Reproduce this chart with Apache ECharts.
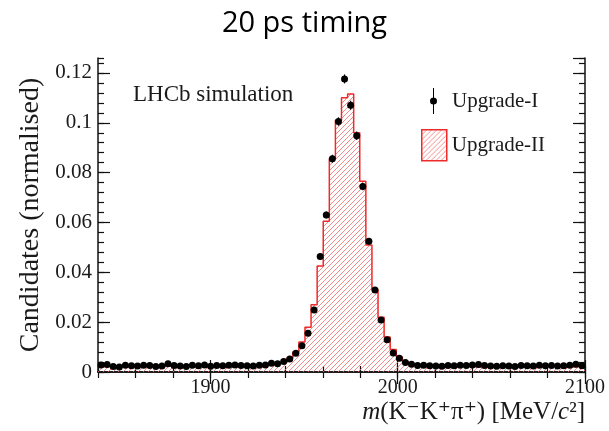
<!DOCTYPE html>
<html lang="en">
<head>
  <meta charset="UTF-8">
  <title>20 ps timing</title>
  <script src="https://cdn.jsdelivr.net/npm/echarts@6/dist/echarts.min.js"></script>
  <style>
    html, body { margin: 0; padding: 0; background: #fff; }
    #main { width: 609px; height: 431px; }
  </style>
</head>
<body>
  <div id="main"></div>
  <script>
    // binning of the mass histogram: 80 bins of 3.25 MeV from 1840 to 2100
    var binLo = 1840;
    var binWidth = 3.25;
    var nBins = 80;

    // Upgrade-I points (normalised candidates per bin)
    var upgradeI = [
      0.0028, 0.0030, 0.0022, 0.0020, 0.0027, 0.0025, 0.0024, 0.0027, 0.0026, 0.0022,
      0.0024, 0.0033, 0.0026, 0.0024, 0.0022, 0.0027, 0.0025, 0.0028, 0.0023, 0.0026,
      0.0025, 0.0027, 0.0028, 0.0026, 0.0025, 0.0024, 0.0027, 0.0028, 0.0035, 0.0033,
      0.0042, 0.0052, 0.0075, 0.0105, 0.0155, 0.0249, 0.0463, 0.0630, 0.0856, 0.1005,
      0.1176, 0.1070, 0.0948, 0.0744, 0.0525, 0.0329, 0.0209, 0.0129, 0.0076, 0.0055,
      0.0038, 0.0031, 0.0026, 0.0027, 0.0025, 0.0024, 0.0023, 0.0026, 0.0025, 0.0027,
      0.0026, 0.0028, 0.0030, 0.0026, 0.0024, 0.0023, 0.0025, 0.0024, 0.0022, 0.0026,
      0.0025, 0.0024, 0.0027, 0.0025, 0.0026, 0.0024, 0.0025, 0.0027, 0.0031, 0.0025
    ];
    // error bars of the Upgrade-I points
    var upgradeIErr = [
      0.0003, 0.0003, 0.0003, 0.0003, 0.0003, 0.0003, 0.0003, 0.0003, 0.0003, 0.0003,
      0.0003, 0.0003, 0.0003, 0.0003, 0.0003, 0.0003, 0.0003, 0.0003, 0.0003, 0.0003,
      0.0003, 0.0003, 0.0003, 0.0003, 0.0003, 0.0003, 0.0003, 0.0003, 0.0003, 0.0003,
      0.0004, 0.0004, 0.0005, 0.0006, 0.0007, 0.0009, 0.0012, 0.0014, 0.0016, 0.0017,
      0.0018, 0.0018, 0.0017, 0.0015, 0.0013, 0.0010, 0.0008, 0.0006, 0.0005, 0.0004,
      0.0004, 0.0003, 0.0003, 0.0003, 0.0003, 0.0003, 0.0003, 0.0003, 0.0003, 0.0003,
      0.0003, 0.0003, 0.0003, 0.0003, 0.0003, 0.0003, 0.0003, 0.0003, 0.0003, 0.0003,
      0.0003, 0.0003, 0.0003, 0.0003, 0.0003, 0.0003, 0.0003, 0.0003, 0.0003, 0.0003
    ];
    // Upgrade-II histogram
    var upgradeII = [
      0.0021, 0.0023, 0.0020, 0.0022, 0.0021, 0.0019, 0.0022, 0.0023, 0.0021, 0.0020,
      0.0022, 0.0024, 0.0021, 0.0020, 0.0022, 0.0023, 0.0021, 0.0022, 0.0020, 0.0021,
      0.0023, 0.0022, 0.0021, 0.0022, 0.0024, 0.0023, 0.0025, 0.0027, 0.0030, 0.0034,
      0.0040, 0.0055, 0.0080, 0.0120, 0.0180, 0.0270, 0.0425, 0.0605, 0.0856, 0.1010,
      0.1100, 0.1116, 0.0960, 0.0765, 0.0510, 0.0330, 0.0220, 0.0140, 0.0090, 0.0060,
      0.0040, 0.0030, 0.0025, 0.0023, 0.0022, 0.0021, 0.0022, 0.0020, 0.0021, 0.0023,
      0.0022, 0.0021, 0.0020, 0.0022, 0.0021, 0.0023, 0.0022, 0.0020, 0.0021, 0.0022,
      0.0021, 0.0020, 0.0022, 0.0021, 0.0023, 0.0022, 0.0021, 0.0020, 0.0022, 0.0021
    ];

    var xMajorTicks = [1900, 2000, 2100];

    // points with error bars
    var pointData = [];
    for (var i = 0; i < nBins; i++) {
      pointData.push([binLo + binWidth * (i + 0.5), upgradeI[i], upgradeIErr[i]]);
    }
    // step histogram, one point per left bin edge plus the last edge
    var histData = [];
    for (var j = 0; j < nBins; j++) {
      histData.push([binLo + binWidth * j, upgradeII[j]]);
    }
    histData.push([binLo + binWidth * nBins, upgradeII[nBins - 1]]);

    // red hatch pattern
    var hatch = document.createElement('canvas');
    hatch.width = 5;
    hatch.height = 5;
    var hc = hatch.getContext('2d');
    hc.strokeStyle = 'rgba(240,110,110,0.8)';
    hc.lineWidth = 1;
    hc.beginPath();
    hc.moveTo(0, 5); hc.lineTo(5, 0);
    hc.moveTo(-2.5, 2.5); hc.lineTo(2.5, -2.5);
    hc.moveTo(2.5, 7.5); hc.lineTo(7.5, 2.5);
    hc.stroke();
    var hatchFill = { image: hatch, repeat: 'repeat' };

    var serif = 'Liberation Serif, DejaVu Serif, serif';
    var ink = '#1a1a1a';
    var frame = { show: true, lineStyle: { color: '#111', width: 1.5 } };

    var myChart = echarts.init(document.getElementById('main'));

    var option = {
      backgroundColor: '#fff',
      animation: false,
      title: [{
        text: '20 ps timing',
        left: 'center',
        top: 4,
        textStyle: { fontFamily: 'Open Sans', fontSize: 29, fontWeight: 'normal', color: '#000' }
      }, {
        text: 'LHCb simulation',
        left: 133,
        top: 83,
        padding: 0,
        textStyle: { fontFamily: serif, fontSize: 23, fontWeight: 'normal', color: ink }
      }],
      legend: [{
        left: 430,
        top: 88,
        padding: 0,
        itemWidth: 7,
        itemHeight: 26,
        textStyle: { fontFamily: serif, fontSize: 21, color: ink, padding: [0, 0, 0, 10] },
        data: [{
          name: 'Upgrade-I',
          icon: 'path://M3,0h1v26h-1zM0,13a3.5,3.5 0 1,1 7,0a3.5,3.5 0 1,1 -7,0z',
          itemStyle: { color: '#000' }
        }]
      }, {
        left: 421,
        top: 129,
        padding: 0,
        itemWidth: 25,
        itemHeight: 31,
        textStyle: { fontFamily: serif, fontSize: 21, color: ink },
        data: [{
          name: 'Upgrade-II',
          icon: 'rect',
          itemStyle: { color: hatchFill, borderColor: '#ee2a2a', borderWidth: 1.5 }
        }]
      }],
      grid: { left: 98, right: 24, top: 58, bottom: 59 },
      xAxis: [{
        type: 'value',
        min: 1840,
        max: 2100,
        position: 'bottom',
        axisLine: frame,
        splitLine: { show: false },
        axisTick: { inside: true, length: 12, customValues: xMajorTicks, lineStyle: { color: '#111', width: 1.2 } },
        axisLabel: {
          customValues: xMajorTicks, margin: 6, fontFamily: serif, fontSize: 20, color: ink,
          formatter: function (v) { return String(v); }
        },
        name: '{it|m}(K\u207BK\u207A\u03C0\u207A) [MeV/{it|c}\u00B2]',
        nameLocation: 'end',
        nameGap: 0,
        nameTextStyle: {
          fontFamily: serif, fontSize: 25, color: ink,
          align: 'right', verticalAlign: 'top', padding: [28, 0, 0, 0],
          rich: { it: { fontFamily: serif, fontSize: 25, fontStyle: 'italic', color: ink } }
        }
      }, {
        type: 'value',
        min: 1840,
        max: 2100,
        interval: 20,
        position: 'bottom',
        axisLine: { show: false },
        splitLine: { show: false },
        axisTick: { inside: true, length: 6, lineStyle: { color: '#111', width: 1.2 } },
        axisLabel: { show: false }
      }, {
        type: 'value',
        min: 1840,
        max: 2100,
        position: 'top',
        axisLine: frame,
        splitLine: { show: false },
        axisTick: { inside: true, length: 12, customValues: xMajorTicks, lineStyle: { color: '#111', width: 1.2 } },
        axisLabel: { show: false }
      }, {
        type: 'value',
        min: 1840,
        max: 2100,
        interval: 20,
        position: 'top',
        axisLine: { show: false },
        splitLine: { show: false },
        axisTick: { inside: true, length: 6, lineStyle: { color: '#111', width: 1.2 } },
        axisLabel: { show: false }
      }],
      yAxis: [{
        type: 'value',
        min: 0,
        max: 0.126,
        interval: 0.02,
        position: 'left',
        axisLine: frame,
        splitLine: { show: false },
        axisTick: { inside: true, length: 12, lineStyle: { color: '#111', width: 1.2 } },
        axisLabel: { showMaxLabel: false, margin: 6, fontFamily: serif, fontSize: 21, color: ink },
        name: 'Candidates (normalised)',
        nameLocation: 'middle',
        nameGap: 52,
        nameTextStyle: { fontFamily: serif, fontSize: 28, color: ink }
      }, {
        type: 'value',
        min: 0,
        max: 0.126,
        interval: 0.004,
        position: 'left',
        axisLine: { show: false },
        splitLine: { show: false },
        axisTick: { inside: true, length: 6, lineStyle: { color: '#111', width: 1.2 } },
        axisLabel: { show: false }
      }, {
        type: 'value',
        min: 0,
        max: 0.126,
        interval: 0.02,
        position: 'right',
        axisLine: frame,
        splitLine: { show: false },
        axisTick: { inside: true, length: 12, lineStyle: { color: '#111', width: 1.2 } },
        axisLabel: { show: false }
      }, {
        type: 'value',
        min: 0,
        max: 0.126,
        interval: 0.004,
        position: 'right',
        axisLine: { show: false },
        splitLine: { show: false },
        axisTick: { inside: true, length: 6, lineStyle: { color: '#111', width: 1.2 } },
        axisLabel: { show: false }
      }],
      series: [{
        name: 'Upgrade-II',
        type: 'line',
        step: 'end',
        data: histData,
        showSymbol: false,
        symbol: 'none',
        lineStyle: { color: '#ee2a2a', width: 1.5 },
        itemStyle: { color: '#ee2a2a' },
        areaStyle: { color: hatchFill, opacity: 1 },
        z: 2
      }, {
        name: 'Upgrade-I',
        type: 'custom',
        data: pointData,
        z: 3,
        renderItem: function (params, api) {
          var x = api.value(0), y = api.value(1), e = api.value(2);
          var c = api.coord([x, y]);
          var hi = api.coord([x, y + e]);
          var lo = api.coord([x, y - e]);
          return {
            type: 'group',
            children: [{
              type: 'line',
              shape: { x1: c[0], y1: hi[1], x2: c[0], y2: lo[1] },
              style: { stroke: '#000', lineWidth: 1.2 }
            }, {
              type: 'circle',
              shape: { cx: c[0], cy: c[1], r: 3.5 },
              style: { fill: '#000' }
            }]
          };
        }
      }]
    };

    myChart.setOption(option);
  </script>
</body>
</html>
